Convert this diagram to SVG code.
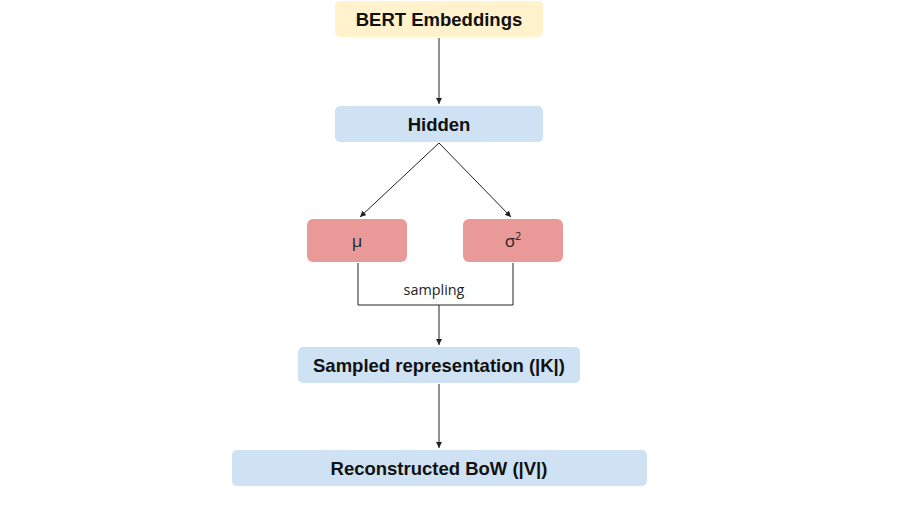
<svg xmlns="http://www.w3.org/2000/svg" width="918" height="517" viewBox="0 0 918 517">
<defs>
<style>
.box{stroke:none}
.yellow{fill:#fff2cc}
.blue{fill:#cfe2f3}
.red{fill:#ea9999}
.t{font-family:"Liberation Sans",Arial,sans-serif;font-weight:bold;font-size:18.5px;fill:#111;text-anchor:middle}
.g{font-family:"Open Sans","Liberation Sans",sans-serif;font-size:17px;fill:#222;text-anchor:middle}
.s{font-family:"Open Sans","Liberation Sans",sans-serif;font-size:14.4px;fill:#222;text-anchor:middle}
.c{stroke:#222;stroke-width:1;fill:none}
</style>
<marker id="ah" markerWidth="8" markerHeight="8" refX="6" refY="3" orient="auto" markerUnits="userSpaceOnUse">
<path d="M0,0 L6,3 L0,6 Z" fill="#222"/>
</marker>
</defs>
<rect width="918" height="517" fill="#fff"/>
<g id="connectors">
<line class="c" x1="439" y1="38" x2="439" y2="104" marker-end="url(#ah)"/>
<line class="c" x1="439" y1="143" x2="360" y2="217" marker-end="url(#ah)"/>
<line class="c" x1="439" y1="143" x2="511" y2="217" marker-end="url(#ah)"/>
<polyline class="c" points="358,263 358,305 513,305 513,263"/>
<line class="c" x1="439" y1="305" x2="439" y2="345" marker-end="url(#ah)"/>
<text class="s" x="434" y="295">sampling</text>
<line class="c" x1="439" y1="384" x2="439" y2="448" marker-end="url(#ah)"/>
</g>
<g id="bert">
<rect class="box yellow" x="335" y="1" width="208" height="36" rx="5"/>
<text class="t" x="439" y="26">BERT Embeddings</text>
</g>
<g id="hidden">
<rect class="box blue" x="335" y="106" width="208" height="36" rx="5"/>
<text class="t" x="439" y="131">Hidden</text>
</g>
<g id="mu">
<rect class="box red" x="307" y="219" width="100" height="43" rx="6"/>
<text class="g" x="357" y="247">μ</text>
</g>
<g id="sigma">
<rect class="box red" x="463" y="219" width="100" height="43" rx="6"/>
<text class="g" x="513" y="247">σ<tspan font-size="11" dy="-7">2</tspan></text>
</g>
<g id="sampled">
<rect class="box blue" x="298" y="347" width="282" height="36" rx="5"/>
<text class="t" x="439" y="372">Sampled representation (|K|)</text>
</g>
<g id="recon">
<rect class="box blue" x="232" y="450" width="415" height="36" rx="5"/>
<text class="t" x="439" y="475">Reconstructed BoW (|V|)</text>
</g>
</svg>
